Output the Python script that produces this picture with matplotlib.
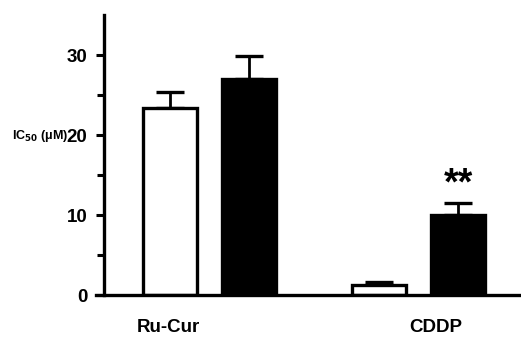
import matplotlib
matplotlib.use('Agg')
from matplotlib import pyplot as plt
import numpy as np

plt.rcParams['font.family'] = ['Liberation Sans', 'DejaVu Sans']

groups = ['Ru-Cur', 'CDDP']
white_vals = [23.4, 1.3]
white_err = [2.0, 0.3]
black_vals = [27.0, 10.0]
black_err = [2.9, 1.5]

fig = plt.figure(figsize=(5.21, 3.42), dpi=100)
ax = fig.add_axes([104 / 521, 47 / 342, 417 / 521, 280 / 342])

centers = np.array([1.96, 5.83])
off = 0.73
w = 1.0

ax.bar(centers - off, white_vals, w, color='white', edgecolor='black', linewidth=2.4, zorder=2)
ax.bar(centers + off, black_vals, w, color='black', edgecolor='black', linewidth=2.4, zorder=2)
ax.errorbar(centers - off, white_vals, yerr=[np.zeros(2), white_err], fmt='none',
            ecolor='black', elinewidth=2, capsize=10, capthick=2.4, zorder=1)
ax.errorbar(centers + off, black_vals, yerr=[np.zeros(2), black_err], fmt='none',
            ecolor='black', elinewidth=2, capsize=10, capthick=2.4, zorder=1)

ax.text(centers[1] + off, black_vals[1] + black_err[1] + 0.1, '**', ha='center', va='bottom',
        fontsize=27, fontweight='bold')

ax.set_xlim(0, 417 / 54)
ax.set_ylim(0, 35)
ax.set_yticks([0, 10, 20, 30])
ax.set_yticks([5, 15, 25], minor=True)
ax.tick_params(axis='y', which='major', length=6, width=2.2, pad=6, labelsize=13.5)
ax.tick_params(axis='y', which='minor', length=5, width=2.2)
for lab in ax.get_yticklabels():
    lab.set_fontweight('bold')

ax.set_xticks([1.2, 6.15])
ax.set_xticklabels(groups, fontsize=13.5, fontweight='bold')
ax.tick_params(axis='x', length=0, pad=17)

for s in ['top', 'right']:
    ax.spines[s].set_visible(False)
ax.spines['left'].set_linewidth(2.4)
ax.spines['bottom'].set_linewidth(2.4)
ax.spines['bottom'].set_bounds(-8 / 54, 417 / 54)
ax.spines['bottom'].set_clip_on(False)

fig.text(12 / 521, 1 - 136 / 342, r'IC$_{\mathbf{50}}$ (μM)', fontsize=9, fontweight='bold',
         ha='left', va='center')

fig.savefig('out.png', dpi=100)
